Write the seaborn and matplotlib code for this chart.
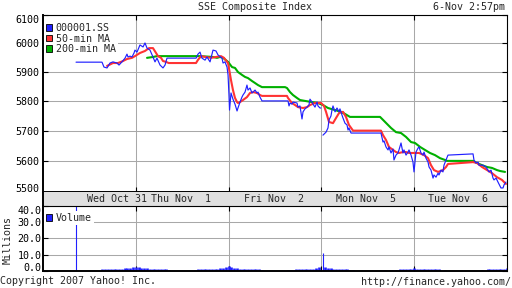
import numpy as np
import pandas as pd
import matplotlib
matplotlib.use("Agg")
import matplotlib.pyplot as plt
from matplotlib.patches import Patch
from matplotlib.ticker import NullLocator
import seaborn as sns

# ---- data (time = trading days since Wed Oct 31 09:30; one day = one session incl. lunch) ----
price_t = [0.356, 0.636, 0.657, 0.690, 0.722, 0.754, 0.797, 0.819, 0.851, 0.884, 0.905, 0.916,
           0.938, 0.959, 0.981, 0.991,
           1.013, 1.045, 1.078, 1.099, 1.121, 1.153, 1.185, 1.207, 1.228, 1.261, 1.293, 1.315,
           1.336, 1.362, 1.650, 1.670, 1.692, 1.713, 1.746, 1.767, 1.800, 1.832, 1.864, 1.886,
           1.929, 1.940, 1.961, 1.983, 1.994,
           2.004, 2.010, 2.026, 2.047, 2.069, 2.091, 2.101, 2.123, 2.144, 2.155, 2.177, 2.198,
           2.209, 2.231, 2.252, 2.263, 2.285, 2.306, 2.317, 2.338, 2.360, 2.640, 2.651, 2.662,
           2.683, 2.694, 2.737, 2.748, 2.769, 2.791, 2.802, 2.823, 2.845, 2.866, 2.877, 2.899,
           2.910, 2.931, 2.953, 2.963, 2.985, 2.995,
           3.017, 3.050, 3.071, 3.082, 3.103, 3.114, 3.125, 3.147, 3.168, 3.190, 3.200, 3.222,
           3.233, 3.254, 3.276, 3.287, 3.297, 3.319, 3.341, 3.642, 3.664, 3.675, 3.696, 3.718,
           3.728, 3.750, 3.772, 3.782, 3.804, 3.825, 3.836, 3.858, 3.879, 3.890, 3.912, 3.933,
           3.944, 3.966, 3.987, 3.998,
           4.019, 4.041, 4.052, 4.073, 4.095, 4.106, 4.127, 4.149, 4.160, 4.181, 4.203, 4.213,
           4.235, 4.257, 4.267, 4.289, 4.310, 4.321, 4.343, 4.364, 4.634, 4.644, 4.666, 4.688,
           4.698, 4.741, 4.774, 4.806, 4.828, 4.849, 4.860, 4.882, 4.903, 4.935, 4.957, 4.968,
           4.989]
price = [5934, 5934, 5917, 5914, 5931, 5935, 5931, 5924, 5935, 5948, 5962, 5952,
         5955, 5952, 5966, 5976,
         5969, 5994, 5987, 6001, 5983, 5976, 5952, 5935, 5948, 5924, 5914, 5924,
         5948, 5948, 5948, 5962, 5969, 5948, 5941, 5952, 5935, 5976, 5973, 5959,
         5948, 5931, 5935, 5917, 5890,
         5821, 5770, 5828, 5807, 5790, 5767, 5777, 5797, 5814, 5821, 5831, 5855,
         5838, 5845, 5828, 5831, 5838, 5828, 5831, 5814, 5801, 5801, 5784, 5794,
         5790, 5797, 5794, 5780, 5784, 5740, 5764, 5774, 5780, 5787, 5807, 5797,
         5790, 5780, 5797, 5784, 5777, 5777,
         5686, 5696, 5710, 5737, 5750, 5770, 5784, 5764, 5777, 5764, 5774, 5753,
         5743, 5726, 5720, 5703, 5710, 5693, 5693, 5693, 5663, 5667, 5647, 5637,
         5647, 5627, 5640, 5604, 5620, 5627, 5637, 5660, 5627, 5637, 5620, 5630,
         5637, 5620, 5597, 5565,
         5630, 5643, 5647, 5627, 5620, 5630, 5610, 5597, 5581, 5571, 5545, 5555,
         5548, 5561, 5555, 5571, 5565, 5587, 5604, 5620, 5624, 5604, 5594, 5597,
         5587, 5587, 5581, 5565, 5571, 5545, 5539, 5545, 5532, 5513, 5513, 5523,
         5532]

ma50_t = [0.690, 0.754, 0.808, 0.862, 0.905, 0.959, 0.991,
          1.045, 1.099, 1.142, 1.185, 1.218, 1.239, 1.272, 1.293, 1.325, 1.355, 1.649, 1.670,
          1.703, 1.756, 1.810, 1.864, 1.918, 1.950, 1.994,
          2.026, 2.047, 2.069, 2.091, 2.101, 2.123, 2.155, 2.198, 2.231, 2.263, 2.306, 2.338,
          2.360, 2.629, 2.640, 2.683, 2.716, 2.748, 2.802, 2.845, 2.877, 2.931, 2.996,
          3.028, 3.050, 3.082, 3.125, 3.157, 3.190, 3.233, 3.265, 3.297, 3.341, 3.642, 3.664,
          3.696, 3.728, 3.772, 3.804, 3.836, 3.879, 3.912, 3.944, 3.998,
          4.019, 4.052, 4.106, 4.149, 4.181, 4.213, 4.257, 4.310, 4.343, 4.364, 4.634, 4.677,
          4.731, 4.785, 4.838, 4.892, 4.946, 4.989]
ma50 = [5921, 5931, 5931, 5938, 5945, 5949, 5955,
        5966, 5973, 5983, 5983, 5966, 5955, 5949, 5938, 5935, 5931, 5931, 5942,
        5955, 5952, 5949, 5952, 5955, 5949, 5931,
        5872, 5838, 5811, 5797, 5794, 5797, 5804, 5814, 5828, 5831, 5828, 5821,
        5818, 5818, 5811, 5794, 5787, 5780, 5777, 5780, 5787, 5794, 5794,
        5784, 5764, 5730, 5726, 5743, 5760, 5764, 5747, 5720, 5701, 5701, 5686,
        5670, 5647, 5637, 5630, 5627, 5630, 5630, 5627, 5627,
        5627, 5627, 5620, 5610, 5587, 5571, 5565, 5571, 5581, 5591, 5597, 5594,
        5581, 5571, 5561, 5548, 5539, 5526]

ma200_t = [1.121, 1.185, 1.228, 1.692, 1.832, 1.875, 1.907, 1.940, 1.994,
           2.037, 2.069, 2.101, 2.144, 2.177, 2.209, 2.252, 2.285, 2.317, 2.360, 2.608, 2.629,
           2.662, 2.694, 2.737, 2.769, 2.823, 2.899, 2.963,
           3.017, 3.071, 3.147, 3.211, 3.254, 3.308, 3.362, 3.632, 3.664, 3.718, 3.750, 3.804,
           3.858, 3.912, 3.966,
           4.009, 4.063, 4.116, 4.170, 4.224, 4.278, 4.332, 4.354, 4.634, 4.677, 4.731, 4.785,
           4.838, 4.892, 4.925, 4.979]
ma200 = [5949, 5952, 5955, 5955, 5952, 5949, 5952, 5949, 5935,
         5917, 5914, 5900, 5890, 5883, 5879, 5869, 5862, 5855, 5848, 5848, 5845,
         5831, 5821, 5811, 5804, 5801, 5797, 5794,
         5787, 5777, 5770, 5764, 5757, 5747, 5747, 5747, 5737, 5720, 5710, 5696,
         5693, 5680, 5663,
         5660, 5647, 5637, 5627, 5620, 5610, 5604, 5601, 5601, 5594, 5587, 5581,
         5578, 5571, 5568, 5565]

vol_t = [0.356,
         0.64, 0.67, 0.70, 0.73, 0.76, 0.79, 0.82, 0.85, 0.88, 0.91, 0.94, 0.97,
         1.00, 1.03, 1.06, 1.09, 1.12, 1.15, 1.18, 1.21, 1.24, 1.27, 1.30, 1.33, 1.36,
         1.64, 1.67, 1.70, 1.73, 1.76, 1.79, 1.82, 1.85, 1.88, 1.91, 1.94, 1.97,
         2.00, 2.03, 2.06, 2.09, 2.12, 2.15, 2.18, 2.21, 2.24, 2.27, 2.30, 2.33, 2.36,
         2.64, 2.67, 2.70, 2.73, 2.76, 2.79, 2.82, 2.85, 2.88, 2.91, 2.94, 2.97,
         3.015, 3.04, 3.07, 3.10, 3.13, 3.16, 3.19, 3.22, 3.25, 3.28, 3.31, 3.34,
         3.64, 3.67, 3.70, 3.73, 3.76, 3.79, 3.82, 3.85, 3.88, 3.91, 3.94, 3.97,
         4.00, 4.03, 4.06, 4.09, 4.12, 4.15, 4.18, 4.21, 4.24, 4.27, 4.33,
         4.73, 4.79, 4.82, 4.85, 4.88, 4.91, 4.94, 4.97, 4.995]
vol_m = [45.0,
         1.1, 1.2, 1.2, 1.3, 1.2, 1.3, 1.4, 1.5, 1.6, 1.8, 2.0, 2.3,
         2.6, 2.4, 2.1, 1.9, 1.6, 1.4, 1.3, 1.3, 1.2, 1.1, 1.1, 1.0, 0.9,
         0.9, 1.0, 1.0, 1.1, 1.1, 1.2, 1.2, 1.3, 1.4, 1.6, 2.0, 2.3,
         2.8, 2.4, 2.0, 1.6, 1.4, 1.3, 1.3, 1.2, 1.2, 1.1, 1.1, 1.0, 0.9,
         0.8, 0.9, 0.9, 1.0, 1.0, 1.1, 1.1, 1.2, 1.3, 1.5, 1.9, 2.2,
         10.8, 2.6, 2.1, 1.8, 1.5, 1.3, 1.2, 1.1, 1.1, 1.0, 0.9, 0.8,
         0.7, 0.7, 0.8, 0.8, 0.8, 0.9, 0.9, 1.0, 1.0, 1.1, 1.3, 1.4,
         1.6, 1.5, 1.4, 1.3, 1.3, 1.2, 1.2, 1.2, 1.1, 1.0, 0.6,
         0.5, 1.2, 1.3, 1.3, 1.3, 1.3, 1.4, 1.5, 2.0]

day_labels = ["Wed Oct 31", "Thu Nov  1", "Fri Nov  2", "Mon Nov  5", "Tue Nov  6"]
day_label_pos = [0.80, 1.485, 2.485, 3.485, 4.475]
day_bounds = [1, 2, 3, 4]
price_ticks = [5500, 5600, 5700, 5800, 5900, 6000, 6100]
vol_ticks = [0, 10, 20, 30, 40]
vol_tick_labels = ["0.0", "10.0", "20.0", "30.0", "40.0"]

# ---- style ----
sns.set_style("white")
plt.rcParams["font.family"] = ["DejaVu Sans Mono"]
FS = 7.2
BLUE, RED, GREEN = "#2020ff", "#ff3333", "#00b000"
GRID = "#a8a8a8"

W, H = 512, 288
fig = plt.figure(figsize=(W / 100, H / 100), dpi=100)
fig.patch.set_facecolor("white")
L, R = 43, 507
ax_p = fig.add_axes([L / W, 1 - 192 / H, (R - L) / W, 177 / H])
ax_b = fig.add_axes([L / W, 1 - 205.7 / H, (R - L) / W, 13.7 / H])
ax_v = fig.add_axes([L / W, 1 - 271 / H, (R - L) / W, 65.3 / H])

# ---- price panel ----
df_p = pd.DataFrame({"t": price_t, "p": price,
                     "seg": [0 if t < 3.0 else 1 for t in price_t]})
sns.lineplot(x=ma200_t, y=ma200, ax=ax_p, color=GREEN, lw=1.5, sort=False, estimator=None)
sns.lineplot(x=ma50_t, y=ma50, ax=ax_p, color=RED, lw=1.5, sort=False, estimator=None)
sns.lineplot(data=df_p, x="t", y="p", units="seg", estimator=None, sort=False,
             ax=ax_p, color=BLUE, lw=0.85)
ax_p.set_yscale("log")
ax_p.set_ylim(5500, 6100)
ax_p.set_xlim(0, 5)
ax_p.set_yticks(price_ticks)
ax_p.yaxis.set_minor_locator(NullLocator())
ax_p.set_yticklabels([str(v) for v in price_ticks])
ax_p.set_xticks(day_bounds)
ax_p.set_xticklabels([])

# ---- volume panel (one thin vertical bar per sample) ----
vol_widths = [0.8 if v > 5 else 1.9 for v in vol_m]
vl = ax_v.vlines(vol_t, 0, vol_m, colors=BLUE, linewidths=vol_widths)
vl.set_capstyle("butt")
ax_v.set_xlim(0, 5)
ax_v.set_ylim(0, 40)
ax_v.set_yticks(vol_ticks)
ax_v.set_yticklabels(vol_tick_labels)
ax_v.set_xticks(day_bounds)
ax_v.set_xticklabels([])

for ax, pad in ((ax_p, 2.9), (ax_v, 1.0)):
    ax.set_xlabel("")
    ax.set_ylabel("")
    ax.set_facecolor("white")
    ax.set_axisbelow(True)
    ax.grid(True, color=GRID, lw=0.75)
    ax.tick_params(axis="both", which="major", direction="in", length=3.5, width=0.8,
                   colors="black", left=True, right=True, top=True, bottom=True,
                   labelbottom=False, labelsize=FS, pad=pad)
    for side, sp in ax.spines.items():
        sp.set_visible(True)
        sp.set_color("black")
        sp.set_linewidth(1.4 if side in ("left", "bottom") else 0.8)

ylabels = ax_p.get_yticklabels()
ylabels[0].set_va("baseline")
ylabels[-1].set_va("top")
vlabels = ax_v.get_yticklabels()
vlabels[0].set_va("baseline")
vlabels[-1].set_va("top")

# ---- date band ----
ax_b.set_xlim(0, 5)
ax_b.set_ylim(0, 1)
ax_b.set_facecolor("#e0e0e0")
ax_b.set_xticks([])
ax_b.set_yticks([])
for side, sp in ax_b.spines.items():
    sp.set_visible(side in ("left", "right"))
    sp.set_color("black")
    sp.set_linewidth(1.4 if side == "left" else 0.8)
for pos, lab in zip(day_label_pos, day_labels):
    ax_b.text(pos, 0.5, lab, ha="center", va="center", fontsize=FS)

# ---- legends ----
leg_kw = dict(loc="upper left", bbox_transform=fig.transFigure, frameon=True, fancybox=False,
              framealpha=1, facecolor="white", edgecolor="white", borderpad=0.2,
              borderaxespad=0, handlelength=0.6, handleheight=0.6, handletextpad=0.35,
              labelspacing=0.05, fontsize=FS)
h_p = [Patch(facecolor=c, edgecolor="black", lw=0.6, label=l)
       for c, l in ((BLUE, "000001.SS"), (RED, "50-min MA"), (GREEN, "200-min MA"))]
lg = ax_p.legend(handles=h_p, bbox_to_anchor=(44 / W, 1 - 21 / H), **leg_kw)
lg.get_frame().set_linewidth(0)
h_v = [Patch(facecolor=BLUE, edgecolor="black", lw=0.6, label="Volume")]
lg2 = ax_v.legend(handles=h_v, bbox_to_anchor=(44 / W, 1 - 211 / H), **leg_kw)
lg2.get_frame().set_linewidth(0)

# ---- texts ----
fig.text(255 / W, 1 - 7 / H, "SSE Composite Index", ha="center", va="center", fontsize=FS)
fig.text(505 / W, 1 - 7 / H, "6-Nov 2:57pm", ha="right", va="center", fontsize=FS)
fig.text(7.5 / W, 1 - 240 / H, "Millions", rotation=90, ha="center", va="center", fontsize=FS)
fig.text(0 / W, 1 - 281 / H, "Copyright 2007 Yahoo! Inc.", ha="left", va="center", fontsize=FS)
fig.text(511 / W, 1 - 282 / H, "http://finance.yahoo.com/", ha="right", va="center", fontsize=FS)

fig.savefig("out.png", dpi=100, facecolor="white")
